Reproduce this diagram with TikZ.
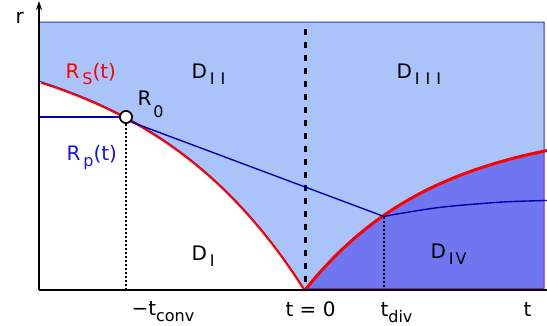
\documentclass[tikz,border=0pt]{standalone}
\usepackage{fontspec}
\setmainfont{DejaVu Sans}
\usetikzlibrary{arrows.meta}
\definecolor{lightregion}{RGB}{170,196,250}
\definecolor{darkregion}{RGB}{112,118,240}
\definecolor{edgeblue}{RGB}{50,50,210}
\definecolor{darkedge}{RGB}{125,40,205}
\definecolor{linenavy}{RGB}{0,0,170}
\definecolor{labelblue}{RGB}{20,20,235}
\newcommand{\lowsub}[2][3pt]{\kern#1\raisebox{-6pt}{\fontsize{16}{18}\selectfont #2}}
\begin{document}
\begin{tikzpicture}[x=1pt,y=1pt,font=\fontsize{20}{24}\selectfont]
\useasboundingbox (-39,-35) rectangle (508,290);

\draw[fill=lightregion, draw=edgeblue, line width=1pt] (0,268) -- (505,268)
  -- plot[domain=239:0, samples=40] ({266+\x},{166*(1-exp(-\x/132))})
  -- plot[domain=266:0, samples=50] (\x,{261*(1-exp(-(266-\x)/165))}) -- cycle;
\draw[fill=darkregion, draw=darkedge, line width=1pt] (266,0)
  -- plot[domain=0:239, samples=40] ({266+\x},{166*(1-exp(-\x/132))}) -- (505,0) -- cycle;

\coordinate (ttop) at (266,261);
\coordinate (tzero) at (266,0);
\coordinate (tconv) at (87,0);
\coordinate (tdivfoot) at (345,0);
\coordinate (tdiv) at (345,73.5);
\coordinate (rpstart) at (0,173);

\draw[red, line width=2pt, yshift=-1pt] plot[domain=2:266, samples=50] (\x,{261*(1-exp(-(266-\x)/165))});
\draw[red, line width=3pt] plot[domain=0:242, samples=40] ({266+\x},{166*(1-exp(-\x/132))});

\draw[line width=3pt, dash pattern=on 6pt off 7pt] (ttop) -- (tzero);

\node[circle, draw, fill=white, line width=1.6pt, minimum size=12pt, inner sep=0pt] (r0) at (87,173) {};
\draw[line width=1.2pt, dash pattern=on 2pt off 2pt] (r0) -- (tconv);
\draw[line width=1.2pt, dash pattern=on 2pt off 2pt] (tdiv) -- (tdivfoot);

\draw[linenavy, line width=1.4pt] (rpstart) -- (r0.west);
\draw[linenavy, line width=1.4pt] (r0.south east) -- (tdiv);
\draw[linenavy, line width=1.4pt] plot[smooth] coordinates {(345,73.5) (358,76) (404,83) (464,88) (508,89.5)};

\draw[line width=1.5pt] (0,0) -- (508,0);
\draw[darkedge, line width=1pt] (267,1.2) -- (505,1.2);
\draw[line width=1.5pt, -{Stealth[length=9pt,width=6pt]}] (0,0) -- (0,289);

\node[circle, draw, fill=white, line width=1.6pt, minimum size=12pt, inner sep=0pt] at (r0) {};

\node[anchor=base west] (rlabel) at (-27,267) {r};
\node[anchor=base west, text=red] (rslabel) at (23,212) {R\lowsub{S}(t)};
\node[anchor=base west] (r0label) at (95,185) {R\kern2pt\raisebox{-12pt}{\fontsize{16}{18}\selectfont 0}};
\node[anchor=base west, text=labelblue] (rplabel) at (24,130) {R\lowsub{p}(t)};
\node[anchor=base west] (d2label) at (149,212) {D\lowsub{I\kern6pt I}};
\node[anchor=base west] (d3label) at (354,212) {D\lowsub{I\kern6pt I\kern6pt I}};
\node[anchor=base west] (d1label) at (149,30) {D\lowsub{I}};
\node[anchor=base west] (d4label) at (388,32) {D\lowsub{I\kern2pt V}};

\node[anchor=base west] (tconvlabel) at (89,-25) {−t\lowsub[0pt]{conv}};
\node[anchor=base west] (tzerolabel) at (243,-26) {t = 0};
\node[anchor=base west] (tdivlabel) at (338,-26) {t\lowsub[0pt]{div}};
\node[anchor=base west] (tlabel) at (481,-26) {t};
\end{tikzpicture}
\end{document}
